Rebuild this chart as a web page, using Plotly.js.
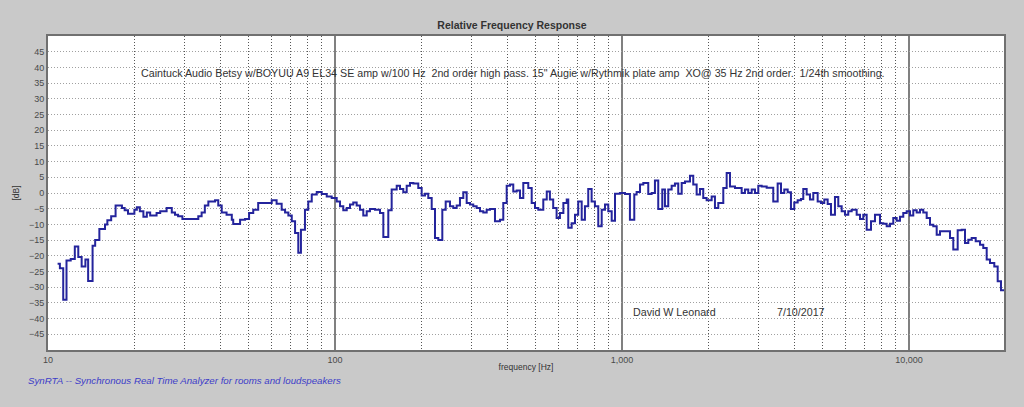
<!DOCTYPE html>
<html>
<head>
<meta charset="utf-8">
<script src="https://cdn.plot.ly/plotly-3.0.1.min.js"></script>
<style>
  html, body { margin: 0; padding: 0; background: #c9c9c9; }
  #chart { width: 1024px; height: 407px; }
</style>
</head>
<body>
<div id="chart"></div>
<script>
// Relative frequency response, 1/24 octave smoothing.
// Each frequency is where a step of the curve starts; level holds until the next one.
const freqHz = [
    10.8, 11.0, 11.3, 11.6, 12.0, 12.4, 12.75, 13.1, 13.5, 13.8,
    14.3, 14.6, 15.1, 15.8, 16.1, 16.6, 17.2, 18.1, 18.5, 19.0,
    20.0, 20.4, 20.9, 21.5, 22.1, 22.7, 23.9, 24.6, 25.9, 27.0,
    27.7, 28.4, 29.4, 33.4, 34.3, 35.2, 36.2, 38.2, 39.2, 40.3,
    41.9, 43.7, 44.2, 46.7, 48.6, 50.2, 51.9, 54.0, 60.2, 62.6,
    65.2,
    67.0, 68.8, 70.7, 72.6, 74.5, 76.1, 78.6, 80.7, 83.0, 86.4,
    89.9, 93.6, 97.4, 101.4, 104.1, 106.9, 109.9, 112.8, 115.8, 119.0,
    122.2, 125.5, 129.0, 132.4, 137.9, 143.5, 147.4, 153.4, 157.6, 164.1,
    168.5, 173.0, 177.8, 182.6, 187.5, 195.1, 200.5, 205.9, 211.4, 217.3,
    223.1, 229.1, 236.6, 243.1, 251.6, 258.4, 265.5, 272.6, 280.0, 287.7,
    295.4, 303.3, 311.7, 320.1, 328.7, 337.8, 346.8, 361.0, 375.8, 385.9,
    396.6, 407.2, 418.1, 429.7, 441.2, 453.1,
    471.6, 484.7, 497.7, 511, 532, 547, 561, 576, 592, 608,
    625, 642, 650, 668, 686, 704, 724, 743, 763, 784,
    805, 827, 850, 873, 896, 921, 946, 984, 1025, 1066,
    1104, 1125, 1156, 1187, 1235, 1269, 1303, 1338, 1382, 1412,
    1450, 1490, 1530, 1571, 1615, 1658, 1726, 1772, 1821, 1870,
    1920, 1973, 2054, 2109, 2166, 2255, 2317, 2379, 2477, 2613,
    2683, 2755, 2832, 2908, 2986, 3068, 3194,
    3367, 3488, 3582, 3678, 3780, 3881, 3985, 4096, 4205, 4284,
    4402, 4520, 4642, 4808, 4937, 5070, 5210, 5350, 5524, 5673,
    5830, 5986, 6147, 6317, 6575, 6752, 6933, 7125, 7375, 7615,
    7927, 8140, 8365, 8589, 8820, 9064, 9307, 9557, 9821, 10085,
    10356, 10642, 10928, 11221, 11532, 11841, 12159, 12495, 12830, 13902,
    14275, 14788, 15270, 15680, 16101, 16546, 17086, 17686, 18160, 18663,
    19163, 19836, 20384, 20931, 21441
];
const levelDb = [
    -22.5, -24, -34, -21.5, -21, -17, -20.4, -23.4, -21.2, -28,
    -16.8, -15, -11.5, -10, -8.7, -7.4, -4, -4.8, -5.5, -6.6,
    -5.3, -4.5, -5.8, -7.6, -6.2, -7.2, -6.4, -5.8, -4.8, -6.2,
    -6.9, -7.4, -8.3, -7.4, -6.2, -4, -2.7, -2.3, -4, -6.2,
    -6.9, -8.5, -9.9, -8.5, -8.3, -6.4, -5.3, -3.2, -2.3, -3.4,
    -5.3,
    -6.2, -7.2, -9, -12.7, -19, -11.7, -5.3, -2.7, -0.5, 0.3,
    -0.3, -1.1, -1.6, -2.7, -4.2, -5.5, -4.8, -3.7, -3, -4,
    -5.3, -7.2, -5.8, -5.1, -5.3, -6.4, -14, -5.5, 1.1, 2.3,
    1.3, 0.2, 2.3, 3.2, 3, 1.6, -0.8, -0.2, -1.6, -5.1,
    -14.3, -15, -5.3, -2.7, -4.2, -4.8, -4, -1.6, 0.2, -3.2,
    -3.7, -4.2, -4.8, -5.8, -6.2, -5.3, -5.1, -9, -8.5, -3.2,
    2.3, 2.7, 0.5, 0.8, -1.6, 3.2,
    1.6, -3.2, -4.8, -5.3, -2.1, 0.5, -2.1, -4.8, -8, -6.4,
    -3.2, -2.1, -11.1, -9.6, -6.9, -2.7, -8.5, -4.2, 1.3, -2.7,
    -4.2, -10.6, -5.3, -3.7, -5.8, -8.8, -0.2, 0, -0.3, -8.5,
    -0.5, 0.3, 2.7, 3.2, -0.3, 0, 4, -5.1, 1.1, -4.2,
    1.1, 2.3, 3, -0.2, 3.2, 3.7, 5.5, 2.7, -0.5, 1.3,
    -1.6, -2.3, -1.1, -4.8, -3.2, 1.6, 6.4, 2.1, 1.6, 0,
    1.1, 0, 1.1, 0, 2.3, 2.1, 1.7,
    -2.7, 3, 0, 1.1, 0.2, -5.1, -3, -2.3, -1.9, 1.3,
    -0.5, -2.1, 0, -2.7, -3.2, -2.1, -3.5, -6.9, -1.3, -4.2,
    -5.8, -6.9, -5.8, -5.3, -6.9, -8.3, -6.9, -11.7, -9, -6.9,
    -9.6, -9.8, -10.6, -9.8, -8, -8.8, -7.6, -6.4, -5.8, -7.2,
    -5.5, -6.2, -5.3, -6.2, -8, -10.1, -10.6, -13.3, -12.2, -14.3,
    -18, -11.9, -11.7, -15.9, -14.9, -14.3, -15.4, -16.5, -17.5, -21.2,
    -22.3, -23.4, -28.1, -31, -31
];

// axis ticks
const decadeTicks = [10, 100, 1000, 10000];
const decadeLabels = ['10', '100', '1,000', '10,000'];
const minorTicks = [
    20, 30, 40, 50, 60, 70, 80, 90,
    200, 300, 400, 500, 600, 700, 800, 900,
    2000, 3000, 4000, 5000, 6000, 7000, 8000, 9000
];
const dbTicks = [45, 40, 35, 30, 25, 20, 15, 10, 5, 0, -5, -10, -15, -20, -25, -30, -35, -40, -45];

// text on the chart
const noteText = 'Caintuck Audio Betsy w/BOYUU A9 EL34 SE amp w/100 Hz  2nd order high pass. 15" Augie w/Rythmik plate amp  XO@ 35 Hz 2nd order.  1/24th smoothing.';
const authorText = 'David W Leonard';
const dateText = '7/10/2017';
const footerText = 'SynRTA -- Synchronous Real Time Analyzer for rooms and loudspeakers';

const sans = 'Liberation Sans, Arial, sans-serif';

const data = [{
    x: freqHz,
    y: levelDb,
    type: 'scatter',
    mode: 'lines',
    line: { color: '#24249c', width: 2, shape: 'hv' },
    hoverinfo: 'skip'
}];

const layout = {
    width: 1024,
    height: 407,
    margin: { l: 48, r: 20, t: 36, b: 57 },
    paper_bgcolor: '#c9c9c9',
    plot_bgcolor: '#ffffff',
    showlegend: false,
    font: { family: sans, size: 9, color: '#4a4a4a' },
    title: {
        text: '<b>Relative Frequency Response</b>',
        font: { family: sans, size: 10.5, color: '#333333' },
        x: 0.5, xref: 'container', xanchor: 'center',
        y: 0.937, yref: 'container', yanchor: 'middle'
    },
    xaxis: {
        type: 'log',
        range: [1, 4.3313],
        tickvals: decadeTicks,
        ticktext: decadeLabels,
        ticks: '',
        tickfont: { size: 9, color: '#4a4a4a' },
        showgrid: true,
        gridcolor: '#808080',
        gridwidth: 1.5,
        minor: {
            tickvals: minorTicks,
            ticks: '',
            showgrid: true,
            gridcolor: '#555555',
            griddash: '1px,2px',
            gridwidth: 1
        },
        zeroline: false,
        showline: true,
        mirror: true,
        linecolor: '#707070',
        linewidth: 2,
        title: { text: 'frequency [Hz]', font: { size: 8.5, color: '#333333' }, standoff: 0 }
    },
    yaxis: {
        range: [-50, 50],
        tickvals: dbTicks,
        ticks: '',
        tickfont: { size: 9, color: '#4a4a4a' },
        showgrid: true,
        gridcolor: '#a0a0a0',
        griddash: '1px,2px',
        gridwidth: 1,
        zeroline: false,
        showline: true,
        mirror: true,
        linecolor: '#707070',
        linewidth: 2,
        title: { text: '[dB]', font: { size: 8.5, color: '#333333' }, standoff: 8 }
    },
    annotations: [
        {
            text: noteText, xref: 'paper', yref: 'paper', x: 0.0952, y: 0.882,
            xanchor: 'left', yanchor: 'middle', showarrow: false,
            font: { family: sans, size: 10.7, color: '#333333' }
        },
        {
            text: authorText, xref: 'paper', yref: 'paper', x: 0.610, y: 0.1226,
            xanchor: 'left', yanchor: 'middle', showarrow: false,
            font: { family: sans, size: 10.7, color: '#333333' }
        },
        {
            text: dateText, xref: 'paper', yref: 'paper', x: 0.760, y: 0.1226,
            xanchor: 'left', yanchor: 'middle', showarrow: false,
            font: { family: sans, size: 10.7, color: '#333333' }
        },
        {
            text: '<i>' + footerText + '</i>', xref: 'paper', yref: 'paper', x: -0.023, y: -0.0987,
            xanchor: 'left', yanchor: 'middle', showarrow: false,
            font: { family: sans, size: 9.7, color: '#3c3cc8' }
        }
    ]
};

const config = {
    displayModeBar: false,
    staticPlot: true
};

Plotly.newPlot('chart', data, layout, config);
</script>
</body>
</html>
